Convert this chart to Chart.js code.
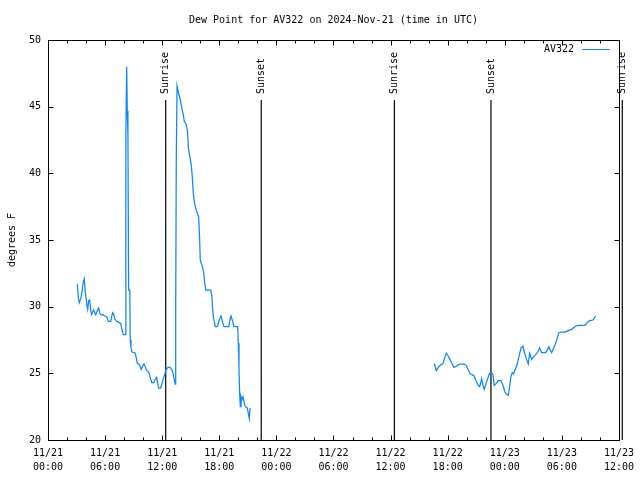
<!DOCTYPE html>
<html>
<head>
<meta charset="utf-8">
<script src="https://cdn.jsdelivr.net/npm/chart.js@4.4.0/dist/chart.umd.min.js"></script>
<style>
  html, body { margin: 0; padding: 0; background: #fff; }
  #wrap { width: 640px; height: 480px; }
</style>
</head>
<body>
<div id="wrap"><canvas id="dewChart" width="640" height="480"></canvas></div>
<script>
// times are hours after 11/21 00:00 UTC
const hoursPart1 = [3.08, 3.18, 3.29, 3.44, 3.57, 3.71, 3.81, 3.92, 4.07, 4.17, 4.28, 4.38, 4.49, 4.59, 4.70, 4.80,
    4.91, 5.01, 5.12, 5.22, 5.33, 5.43, 5.54, 5.75, 5.96, 6.17, 6.34, 6.59, 6.69, 6.80, 6.90, 7.01, 7.22, 7.49,
    7.64, 7.78, 7.91, 8.13, 8.18, 8.27, 8.33, 8.40, 8.47, 8.60, 8.64, 8.72, 8.83, 9.14, 9.25, 9.38, 9.59, 9.80,
    9.95, 10.09, 10.22, 10.37, 10.58, 10.72, 10.90, 11.11, 11.27, 11.42, 11.53, 11.63, 11.84, 11.98, 12.12, 12.26,
    12.40, 12.61, 12.82, 13.03, 13.17, 13.27, 13.38, 13.42, 13.48, 13.56, 13.69, 13.80, 13.90, 14.01, 14.11, 14.22,
    14.32, 14.47, 14.57, 14.68, 14.74, 14.85, 14.95, 15.06, 15.16, 15.27, 15.41, 15.52, 15.69, 15.83, 15.94, 16.00,
    16.11, 16.26, 16.36, 16.47, 16.60, 17.10, 17.23, 17.31, 17.41, 17.58, 17.79, 18.00, 18.18, 18.36, 18.49, 18.99,
    19.12, 19.23, 19.41, 19.54, 19.93, 20.00, 20.07, 20.14, 20.21, 20.28, 20.38, 20.49, 20.59, 20.73, 20.94, 21.05,
    21.15, 21.23];
const dewPart1 = [31.7, 30.7, 30.3, 30.6, 31.1, 31.9, 32.1, 31.1, 30.25, 29.8, 30.45, 30.5, 29.75, 29.4, 29.6, 29.75,
    29.55, 29.4, 29.6, 29.75, 29.9, 29.55, 29.4, 29.4, 29.3, 29.25, 28.9, 28.9, 29.25, 29.55, 29.45, 29.1, 28.9, 28.8,
    28.75, 28.25, 27.9, 27.9, 42.9, 48.0, 44.7, 42.9, 31.25, 31.25, 27.5, 26.95, 26.6, 26.55, 26.25, 25.75, 25.65, 25.3,
    25.55, 25.7, 25.5, 25.2, 25.1, 24.75, 24.3, 24.3, 24.55, 24.7, 24.25, 23.9, 23.9, 24.25, 24.6, 24.9,
    25.25, 25.45, 25.45, 25.25, 24.9, 24.5, 24.2, 29.75, 41.0, 46.55, 46.1, 45.8, 45.5, 45.1, 44.75, 44.4,
    43.9, 43.75, 43.5, 43.0, 42.0, 41.5, 41.1, 40.6, 39.75, 38.5, 37.75, 37.4, 37.0, 36.75, 35.0, 33.5,
    33.25, 32.9, 32.6, 31.75, 31.25, 31.25, 30.75, 29.75, 29.1, 28.5, 28.5, 29.0, 29.3, 28.8, 28.5, 28.5,
    29.0, 29.3, 28.9, 28.5, 28.5, 27.25, 25.5, 23.5, 22.5, 23.25, 23.0, 23.25, 22.9, 22.5, 22.4, 22.0,
    21.6, 22.4];

const hoursPart2 = [40.59, 40.80, 41.01, 41.22, 41.43, 41.54, 41.72, 41.85, 42.06, 42.27, 42.48, 42.63, 42.84, 43.05,
    43.26, 43.74, 43.95, 44.16, 44.37, 44.58, 44.79, 44.94, 45.15, 45.32, 45.42, 45.57, 45.71, 45.84, 46.02, 46.20,
    46.41, 46.62, 46.76, 46.90, 47.11, 47.32, 47.60, 47.81, 48.02, 48.23, 48.37, 48.51, 48.65, 48.79, 48.93, 49.07,
    49.28, 49.49, 49.70, 49.91, 50.05, 50.26, 50.47, 50.62, 50.83, 51.04, 51.25, 51.46, 51.67, 51.88, 52.30, 52.51,
    52.64, 52.78, 52.93, 53.14, 53.35, 53.56, 53.69, 53.90, 54.32, 54.67, 55.03, 55.45, 55.80, 56.43, 56.64, 56.92,
    57.27, 57.55];
const dewPart2 = [25.75, 25.2, 25.45, 25.6, 25.7, 25.8, 26.25, 26.5, 26.3, 26.0, 25.7, 25.45, 25.5, 25.6,
    25.7, 25.7, 25.6, 25.25, 24.95, 24.9, 24.8, 24.5, 24.2, 24.0, 24.1, 24.6, 24.1, 23.8, 24.2, 24.6,
    25.0, 25.05, 24.9, 24.1, 24.25, 24.45, 24.45, 24.1, 23.6, 23.4, 23.35, 24.0, 24.75, 25.05, 24.95, 25.25,
    25.6, 26.25, 26.9, 27.05, 26.6, 26.1, 25.7, 26.5, 26.05, 26.25, 26.4, 26.6, 26.9, 26.55, 26.55, 26.8,
    27.0, 26.75, 26.55, 26.9, 27.25, 27.75, 28.05, 28.1, 28.1, 28.2, 28.3, 28.55, 28.6, 28.6, 28.8, 28.95,
    29.0, 29.3];

const sunHours = [12.37, 22.41, 36.4, 46.55, 60.35];
const sunLabels = ['Sunrise', 'Sunset', 'Sunrise', 'Sunset', 'Sunrise'];
const sunLineTop = 45.5;

const yTicks = [20, 25, 30, 35, 40, 45, 50];
const xTickHours = [0, 6, 12, 18, 24, 30, 36, 42, 48, 54, 60];
const xTickDates = ['11/21', '11/21', '11/21', '11/21', '11/22', '11/22', '11/22', '11/22', '11/23', '11/23', '11/23'];
const xTickTimes = ['00:00', '06:00', '12:00', '18:00', '00:00', '06:00', '12:00', '18:00', '00:00', '06:00', '12:00'];

const monoFont = "'DejaVu Sans Mono', 'Liberation Mono', monospace";
const lineBlue = '#0f84ff';

// one series with a null to leave the gap
const dewPoints = hoursPart1.map((h, i) => ({ x: h, y: dewPart1[i] }))
    .concat([{ x: 30, y: null }])
    .concat(hoursPart2.map((h, i) => ({ x: h, y: dewPart2[i] })));

const sunDatasets = sunHours.map(h => ({
    label: '',
    data: [{ x: h, y: 20 }, { x: h, y: sunLineTop }],
    borderColor: '#000',
    borderWidth: 1.2,
    pointRadius: 0,
    tension: 0,
    clip: false
}));

// gnuplot style box, inward ticks, sun labels and key
const gnuplotFrame = {
    id: 'gnuplotFrame',
    afterDraw(chart) {
        const ctx = chart.ctx;
        const area = chart.chartArea;
        const xs = chart.scales.x;
        const ys = chart.scales.y;
        const left = Math.round(area.left) + 0.5;
        const right = Math.round(area.right) + 0.5;
        const top = Math.round(area.top) + 0.5;
        const bottom = Math.round(area.bottom) + 0.5;

        ctx.save();
        ctx.strokeStyle = '#000';
        ctx.lineWidth = 1;
        ctx.strokeRect(left, top, right - left, bottom - top);

        ctx.beginPath();
        for (let h = 0; h <= 60; h += 2) {
            const len = h % 6 === 0 ? 5 : 3;
            const px = Math.round(xs.getPixelForValue(h)) + 0.5;
            ctx.moveTo(px, bottom);
            ctx.lineTo(px, bottom - len);
            ctx.moveTo(px, top);
            ctx.lineTo(px, top + len);
        }
        yTicks.forEach(v => {
            const py = Math.round(ys.getPixelForValue(v)) + 0.5;
            ctx.moveTo(left, py);
            ctx.lineTo(left + 5, py);
            ctx.moveTo(right, py);
            ctx.lineTo(right - 5, py);
        });
        ctx.stroke();

        ctx.fillStyle = '#000';
        ctx.font = '10px ' + monoFont;
        ctx.textBaseline = 'middle';
        sunHours.forEach((h, i) => {
            const px = xs.getPixelForValue(h);
            const py = ys.getPixelForValue(sunLineTop);
            ctx.save();
            ctx.translate(px, py - 6);
            ctx.rotate(-Math.PI / 2);
            ctx.textAlign = 'left';
            ctx.fillText(sunLabels[i], 0, 0);
            ctx.restore();
        });

        // key
        ctx.textAlign = 'right';
        ctx.fillText('AV322', 574, 49);
        ctx.strokeStyle = lineBlue;
        ctx.beginPath();
        ctx.moveTo(582, 49.5);
        ctx.lineTo(610, 49.5);
        ctx.stroke();
        ctx.restore();
    }
};

const ctx = document.getElementById('dewChart').getContext('2d');
const dewChart = new Chart(ctx, {
    type: 'line',
    data: {
        datasets: [{
            label: 'AV322',
            data: dewPoints,
            borderColor: lineBlue,
            borderWidth: 1.25,
            pointRadius: 0,
            tension: 0,
            spanGaps: false,
            fill: false
        }].concat(sunDatasets)
    },
    options: {
        responsive: false,
        animation: false,
        layout: {
            padding: { left: 0, right: 21, top: 0, bottom: 0 }
        },
        plugins: {
            legend: { display: false },
            tooltip: { enabled: false },
            title: {
                display: true,
                text: 'Dew Point for AV322 on 2024-Nov-21 (time in UTC)',
                fullSize: false,
                color: '#000',
                font: { family: monoFont, size: 10, weight: 'normal', lineHeight: 1.2 },
                padding: { top: 14, bottom: 14 }
            }
        },
        scales: {
            x: {
                type: 'linear',
                min: 0,
                max: 60,
                grid: { display: false, drawTicks: false },
                border: { display: false },
                afterFit: scale => { scale.height = 40; },
                afterBuildTicks: scale => { scale.ticks = xTickHours.map(v => ({ value: v })); },
                ticks: {
                    autoSkip: false,
                    maxRotation: 0,
                    padding: 6,
                    color: '#000',
                    font: { family: monoFont, size: 10, lineHeight: 1.4 },
                    callback: function (value) {
                        const i = xTickHours.indexOf(value);
                        return [xTickDates[i], xTickTimes[i]];
                    }
                }
            },
            y: {
                min: 20,
                max: 50,
                grid: { display: false, drawTicks: false },
                border: { display: false },
                afterFit: scale => { scale.width = 48; },
                afterBuildTicks: scale => { scale.ticks = yTicks.map(v => ({ value: v })); },
                ticks: {
                    padding: 7,
                    color: '#000',
                    font: { family: monoFont, size: 10 }
                },
                title: {
                    display: true,
                    text: 'degrees F',
                    color: '#000',
                    font: { family: monoFont, size: 10, lineHeight: 1.2 },
                    padding: { top: 6, bottom: 0 }
                }
            }
        }
    },
    plugins: [gnuplotFrame]
});
</script>
</body>
</html>
